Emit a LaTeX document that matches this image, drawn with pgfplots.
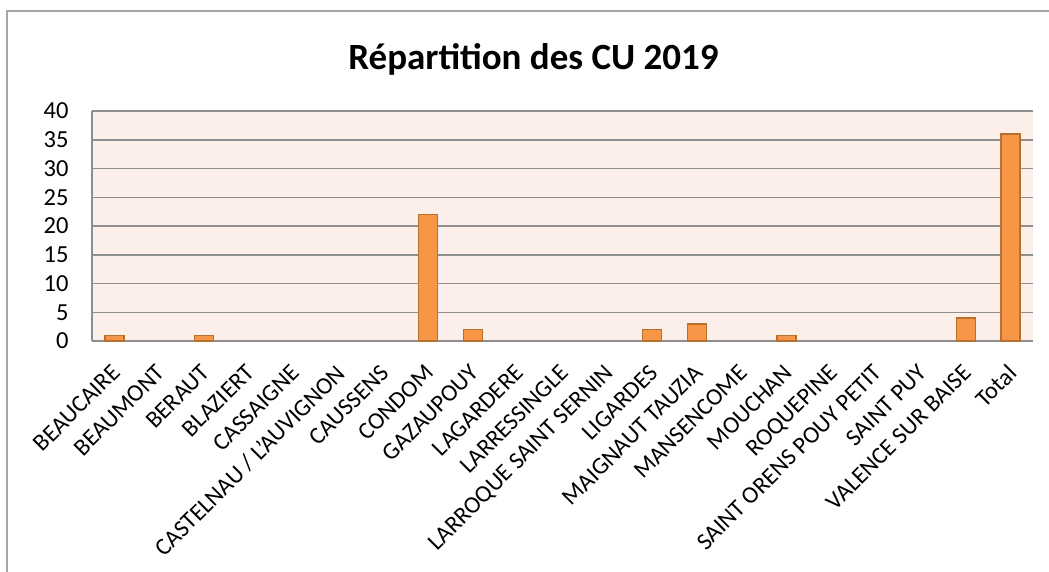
\documentclass[border=0pt]{standalone}
\usepackage{fontspec}
\setmainfont{Carlito}
\usepackage{pgfplots}
\pgfplotsset{compat=1.18}
\definecolor{pinkbg}{HTML}{FCEEE9}
\definecolor{gridgray}{HTML}{8E8E8E}
\definecolor{framegray}{HTML}{A6A6A6}
\definecolor{barfill}{HTML}{F79646}
\definecolor{bardraw}{HTML}{B8702F}
\begin{document}
\begin{tikzpicture}
\path[use as bounding box] (0pt,0pt) rectangle (1049pt,-572pt);
\draw[framegray, line width=1.5pt] (7pt,-580pt) -- (7pt,-11pt) -- (1060pt,-11pt);
\node[anchor=base, font=\fontsize{37}{41}\selectfont\bfseries] at (533.5pt,-70pt) {Répartition des CU 2019};
\begin{axis}[
  at={(92pt,-341pt)}, anchor=south west,
  scale only axis, width=941pt, height=230pt,
  xmin=-0.5, xmax=20.5, ymin=0, ymax=40,
  ytick={0,5,...,40},
  xtick={0,...,20},
  xticklabels={BEAUCAIRE,BEAUMONT,BERAUT,BLAZIERT,CASSAIGNE,CASTELNAU / L'AUVIGNON,CAUSSENS,CONDOM,GAZAUPOUY,LAGARDERE,LARRESSINGLE,LARROQUE SAINT SERNIN,LIGARDES,MAIGNAUT TAUZIA,MANSENCOME,MOUCHAN,ROQUEPINE,SAINT ORENS POUY PETIT,SAINT PUY,VALENCE SUR BAISE,Total},
  axis lines*=left,
  axis line style={draw=gridgray, line width=1.5pt, -},
  major tick length=0pt,
  ymajorgrids,
  grid style={draw=gridgray, line width=1.5pt},
  axis background/.style={fill=pinkbg},
  /pgf/number format/assume math mode=true,
  yticklabel style={font=\fontsize{24.5}{28}\selectfont, anchor=east, xshift=-20pt},
  xticklabel style={font=\fontsize{24}{28}\selectfont, xshift=-4pt, yshift=-22pt, rotate=45, anchor=north east, inner sep=0pt},
]
\addplot[ybar, bar width=19pt, fill=barfill, draw=bardraw, line width=1.5pt]
  coordinates {(0,1) (2,1) (7,22) (8,2) (12,2) (13,3) (15,1) (19,4) (20,36)};
\end{axis}
\end{tikzpicture}
\end{document}
